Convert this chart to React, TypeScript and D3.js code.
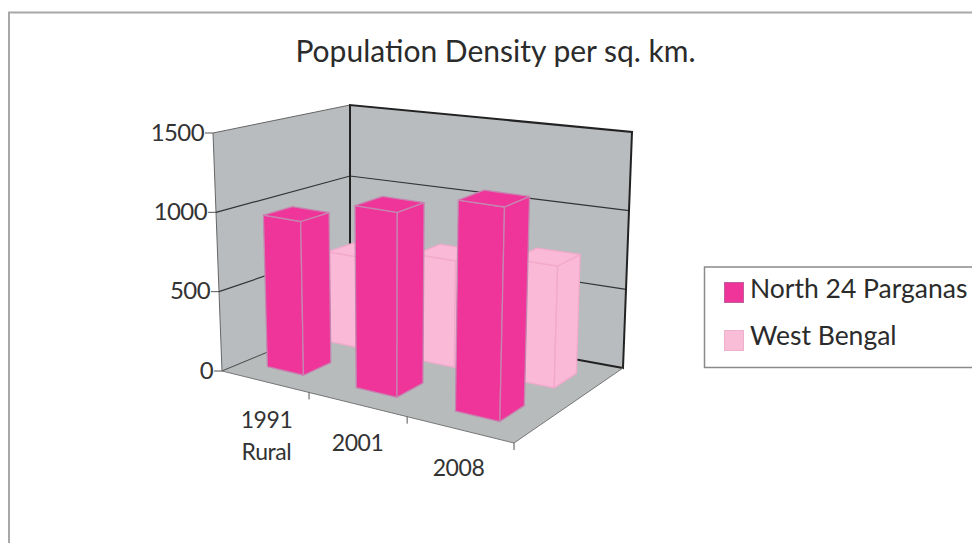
import React from "react";
import * as d3 from "d3";

const title = "Population Density per sq. km.";
const categories = [["1991", "Rural"], ["2001"], ["2008"]];
const seriesNames = ["North 24 Parganas", "West Bengal"];
const north24 = [965, 1120, 1250];
const westBengal = [600, 680, 750];
const yTicks = [0, 500, 1000, 1500];

const W = 972, H = 543;
const FONT = "Lato, 'Open Sans', sans-serif";

// perspective box corners of the plot
const corners = {
  flb: [222, 371], flt: [213, 133],
  frb: [514, 443], frt: [521, 177],
  blb: [350, 318], blt: [350, 105],
  brb: [623, 368], brt: [632, 132],
};
const lerp = (a: number[], b: number[], t: number) => [a[0] + (b[0] - a[0]) * t, a[1] + (b[1] - a[1]) * t];

// foreshortened category axis
const uScale = d3.scaleLinear().domain([0, 1, 2, 3]).range([0, 0.298, 0.634, 1]);
const vScale = d3.scaleLinear().domain([0, 1500]).range([0, 1]);

function P(cat: number, depth: number, value: number) {
  const u = uScale(cat), v = vScale(value);
  const bottom = lerp(lerp(corners.flb, corners.frb, u), lerp(corners.blb, corners.brb, u), depth);
  const top = lerp(lerp(corners.flt, corners.frt, u), lerp(corners.blt, corners.brt, u), depth);
  return lerp(bottom, top, v) as [number, number];
}
const path = (pts: [number, number][], close = true) => (d3.line()(pts) || "") + (close ? "Z" : "");

function Bar({ i, value, d0, d1, fill, edge, shift }: any) {
  const x0 = i + 0.29 + shift, x1 = i + 0.71 + shift;
  const a = P(x0, d0, value), b = P(x1, d0, value), c = P(x1, d1, value), e = P(x0, d1, value);
  const a0 = P(x0, d0, 0), b0 = P(x1, d0, 0), c0 = P(x1, d1, 0);
  return (
    <g stroke={edge} strokeWidth={1.3} strokeLinejoin="round">
      <path d={path([a, b, b0, a0])} fill={fill} />
      <path d={path([b, c, c0, b0])} fill={fill} />
      <path d={path([a, b, c, e])} fill={fill} />
    </g>
  );
}

export default function App() {
  const grid = yTicks.filter((t) => t > 0 && t < 1500);
  return (
    <svg width={W} height={H} viewBox={`0 0 ${W} ${H}`} style={{ position: "absolute", left: 0, top: 0, background: "#fff" }}>
      <path d={`M9 ${H}V12.5H${W}`} fill="none" stroke="#a8a8a8" strokeWidth={2} />
      <text x={495.5} y={62} textAnchor="middle" fontFamily={FONT} fontSize={30} fill="#2b2b2b">{title}</text>

      {/* walls and floor */}
      <path d={path([P(0, 0, 0), P(0, 1, 0), P(0, 1, 1500), P(0, 0, 1500)])} fill="#b8bcbe" stroke="#666" strokeWidth={1} />
      <path d={path([P(0, 1, 0), P(3, 1, 0), P(3, 1, 1500), P(0, 1, 1500)])} fill="#b8bcbe" />
      <path d={path([P(0, 0, 0), P(3, 0, 0), P(3, 1, 0), P(0, 1, 0)])} fill="#b7bbbc" />
      {grid.map((t) => (
        <path key={t} d={path([P(0, 0, t), P(0, 1, t), P(3, 1, t)], false)} fill="none" stroke="#333" strokeWidth={1.2} />
      ))}
      <path d={path([P(0, 1, 0), P(0, 1, 1500), P(3, 1, 1500), P(3, 1, 0), P(0, 1, 0)], false)} fill="none" stroke="#222" strokeWidth={2} />
      <path d={path([P(0, 0, 0), P(0, 1, 0)], false)} fill="none" stroke="#555" strokeWidth={1} />
      <path d={path([P(0, 0, 0), P(3, 0, 0), P(3, 1, 0)], false)} fill="none" stroke="#777" strokeWidth={1} />

      {/* value axis */}
      {yTicks.map((t) => {
        const [x, y] = P(0, 0, t);
        return (
          <g key={t}>
            <line x1={x - 8} x2={x} y1={y} y2={y} stroke="#555" strokeWidth={1} />
            <text x={x - 9} y={y - 1} dy="0.36em" textAnchor="end" fontFamily={FONT} fontSize={24} letterSpacing={-0.6} fill="#333">{t}</text>
          </g>
        );
      })}

      {/* category axis */}
      {d3.range(1, 4).map((c) => {
        const [x, y] = P(c, 0, 0);
        return <line key={c} x1={x} x2={x} y1={y} y2={y + 7} stroke="#555" strokeWidth={1} />;
      })}
      {categories.map((lines, i) => {
        const [x, y] = P(i + 0.5, 0, 0);
        return lines.map((s, k) => (
          <text key={s} x={x + 1 - i * 1.5} y={y + 46 + k * 32} textAnchor="middle" fontFamily={FONT} fontSize={23} letterSpacing={-0.4} fill="#333">{s}</text>
        ));
      })}

      {/* bars */}
      {westBengal.map((v, i) => <Bar key={i} i={i} value={v} d0={0.65} d1={0.85} fill="#f9b9d7" edge="#f2a9cb" shift={-0.01} />)}
      {north24.map((v, i) => <Bar key={i} i={i} value={v} d0={0.18} d1={0.4} fill="#f0359a" edge="#c585b0" shift={-0.03} />)}

      {/* legend */}
      <path d={`M${W} 267H704.5V367.5H${W}`} fill="#fff" stroke="#8a8a8a" strokeWidth={1.5} />
      {seriesNames.map((s, i) => (
        <g key={s}>
          <rect x={724.5} y={282.5 + i * 48} width={19} height={20} fill={i === 0 ? "#f0359a" : "#f9bdd8"} stroke={i === 0 ? "#c0609f" : "#efb0cc"} />
          <text x={750} y={298 + i * 47} fontFamily={FONT} fontSize={26.5} fill="#2b2b2b">{s}</text>
        </g>
      ))}
    </svg>
  );
}
